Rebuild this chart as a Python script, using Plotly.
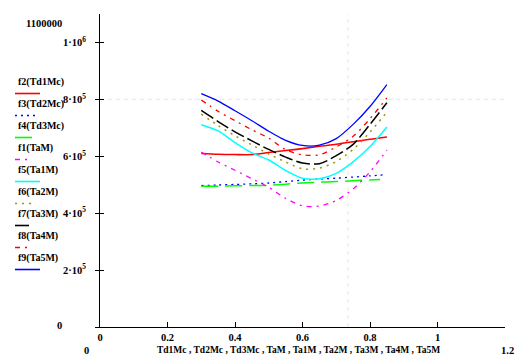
import plotly.graph_objects as go

# ---------------- data ----------------
x_common = [0.30, 0.35, 0.40, 0.45, 0.50, 0.55, 0.60, 0.65, 0.70, 0.75, 0.80, 0.85]
x_f3 = [0.30, 0.35, 0.40, 0.45, 0.50, 0.55, 0.60, 0.65, 0.70, 0.75, 0.80, 0.845]
x_f4 = [0.30, 0.35, 0.40, 0.45, 0.50, 0.55, 0.60, 0.65, 0.70, 0.75, 0.80, 0.83]

f2_Td1Mc = [610e3, 607e3, 606e3, 606e3, 613e3, 620e3, 627e3, 635e3, 642e3, 651e3, 660e3, 668e3]
f3_Td2Mc = [497e3, 499e3, 501e3, 503e3, 506e3, 511e3, 516e3, 520e3, 523e3, 527e3, 531e3, 535e3]
f4_Td3Mc = [495e3, 495e3, 496e3, 497e3, 498e3, 502e3, 506e3, 509e3, 511e3, 514e3, 517e3, 518e3]
f1_TaM = [615e3, 580e3, 551e3, 521e3, 491e3, 452e3, 426e3, 425e3, 445e3, 485e3, 545e3, 622e3]
f5_Ta1M = [711e3, 689e3, 648e3, 612e3, 587e3, 550e3, 523e3, 521e3, 540e3, 580e3, 634e3, 703e3]
f6_Ta2M = [748e3, 708e3, 672e3, 640e3, 608e3, 580e3, 556e3, 558e3, 582e3, 624e3, 685e3, 755e3]
f7_Ta3M = [761e3, 722e3, 686e3, 654e3, 624e3, 597e3, 576e3, 574e3, 602e3, 642e3, 712e3, 788e3]
f8_Ta4M = [798e3, 758e3, 725e3, 693e3, 664e3, 623e3, 605e3, 605e3, 633e3, 670e3, 732e3, 805e3]
f9_Ta5M = [820e3, 794e3, 760e3, 725e3, 688e3, 656e3, 638e3, 639e3, 662e3, 712e3, 775e3, 852e3]

legend_labels = ["f2(Td1Mc)", "f3(Td2Mc)", "f4(Td3Mc)", "f1(TaM)", "f5(Ta1M)",
                 "f6(Ta2M)", "f7(Ta3M)", "f8(Ta4M)", "f9(Ta5M)"]
x_ticks = [0, 0.2, 0.4, 0.6, 0.8, 1.0]
x_ticktext = ["0", "0.2", "0.4", "0.6", "0.8", "1"]
y_ticks = [0, 2e5, 4e5, 6e5, 8e5, 1e6]
y_ticktext = ["", "2·10<sup>5</sup>", "4·10<sup>5</sup>", "6·10<sup>5</sup>",
              "8·10<sup>5</sup>", "1·10<sup>6</sup>"]
x_title = "Td1Mc , Td2Mc , Td3Mc , TaM , Ta1M , Ta2M , Ta3M , Ta4M , Ta5M"

# ---------------- styles ----------------
series = [
    (x_common, f2_Td1Mc, "#ff0000", "solid", 1.6, 25),
    (x_f3, f3_Td2Mc, "#0000ff", "2px,4px", 1.3, 20),
    (x_f4, f4_Td3Mc, "#00ff00", "17px,7px", 1.5, 17),
    (x_common, f1_TaM, "#ff00ff", "5px,5px,2px,5px", 1.3, 17),
    (x_common, f5_Ta1M, "#00ffff", "solid", 1.5, 25),
    (x_common, f6_Ta2M, "#999900", "2px,5px", 1.5, 20),
    (x_common, f7_Ta3M, "#000000", "14px,4px", 1.5, 17),
    (x_common, f8_Ta4M, "#ff0000", "5px,5px,2px,5px", 1.3, 17),
    (x_common, f9_Ta5M, "#0000ff", "solid", 1.3, 25),
]

W, H = 532, 359
ML, MR, MT, MB = 100, 27, 14, 32
PW, PH = W - ML - MR, H - MT - MB

def px_x(px):
    return (px - ML) / PW

def px_y(py):
    return (H - MB - py) / PH

def b(t):
    return "<b>" + t + "</b>" if t else t

FONT = "Liberation Serif"
FS = 10.5
LFS = 10

fig = go.Figure()
for xs, ys, color, dash, w, _ in series:
    fig.add_trace(go.Scatter(x=xs, y=ys, mode="lines",
                             line=dict(color=color, dash=dash, width=w, shape="spline", smoothing=0.8),
                             showlegend=False, hoverinfo="skip"))

# dummy trace for second y axis (inner tick marks)
fig.add_trace(go.Scatter(x=[None], y=[None], yaxis="y2", showlegend=False))

fig.update_layout(
    width=W, height=H,
    margin=dict(l=ML, r=MR, t=MT, b=MB, pad=0),
    paper_bgcolor="white", plot_bgcolor="white",
    font=dict(family=FONT, size=FS, color="black"),
    xaxis=dict(range=[0, 1.2], showgrid=False, zeroline=False, showline=True,
               linecolor="black", linewidth=1, ticks="inside", ticklen=5,
               tickcolor="black", tickvals=x_ticks, ticktext=[b(t) for t in x_ticktext],
               tickfont=dict(family=FONT, size=FS, color="black")),
    yaxis=dict(range=[0, 1.1e6], showgrid=False, zeroline=False, showline=True,
               linecolor="black", linewidth=1, ticks="outside", ticklen=4,
               tickcolor="black", tickvals=y_ticks, ticktext=[b(t) for t in y_ticktext],
               ticklabelstandoff=7,
               tickfont=dict(family=FONT, size=FS, color="black")),
    yaxis2=dict(range=[0, 1.1e6], overlaying="y", side="left", showgrid=False,
                zeroline=False, showline=False, ticks="inside", ticklen=4,
                tickcolor="black", tickvals=y_ticks, showticklabels=False),
)

shapes = []
# marker lines (light dashed)
shapes.append(dict(type="line", xref="paper", yref="y", x0=0, x1=1, y0=8e5, y1=8e5,
                   line=dict(color="#e6e6e6", width=1, dash="4px,4px"), layer="below"))
shapes.append(dict(type="line", xref="x", yref="paper", x0=0.735, x1=0.735, y0=0, y1=1,
                   line=dict(color="#e6e6e6", width=1, dash="4px,4px"), layer="below"))

annotations = []
# legend: label above line sample
for i, (lab, s) in enumerate(zip(legend_labels, series)):
    ty = 82 + 22 * i
    ly = ty + 11.5
    annotations.append(dict(text=b(lab), xref="paper", yref="paper", x=px_x(16), y=px_y(ty),
                            xanchor="left", yanchor="middle", showarrow=False,
                            font=dict(family=FONT, size=LFS, color="black")))
    shapes.append(dict(type="line", xref="paper", yref="paper",
                       x0=px_x(15), x1=px_x(15 + s[5]), y0=px_y(ly), y1=px_y(ly),
                       line=dict(color=s[2], dash=s[3], width=1.6)))

# limit labels and axis title
annotations += [
    dict(text=b("1100000"), xref="paper", yref="paper", x=px_x(64), y=px_y(24),
         xanchor="right", yanchor="middle", showarrow=False),
    dict(text=b("0"), xref="paper", yref="paper", x=px_x(64), y=px_y(325),
         xanchor="right", yanchor="middle", showarrow=False),
    dict(text=b("0"), xref="paper", yref="paper", x=px_x(86), y=px_y(350),
         xanchor="center", yanchor="middle", showarrow=False),
    dict(text=b("1.2"), xref="paper", yref="paper", x=px_x(508), y=px_y(350),
         xanchor="center", yanchor="middle", showarrow=False),
    dict(text=b(x_title), xref="paper", yref="paper", x=px_x(298), y=px_y(350),
         xanchor="center", yanchor="middle", showarrow=False,
         font=dict(family=FONT, size=9.5, color="black")),
]

fig.update_layout(shapes=shapes, annotations=annotations)
fig.write_html("out.html", config={"displayModeBar": False},
               post_script="document.body.style.margin='0';document.body.style.overflow='hidden';")
